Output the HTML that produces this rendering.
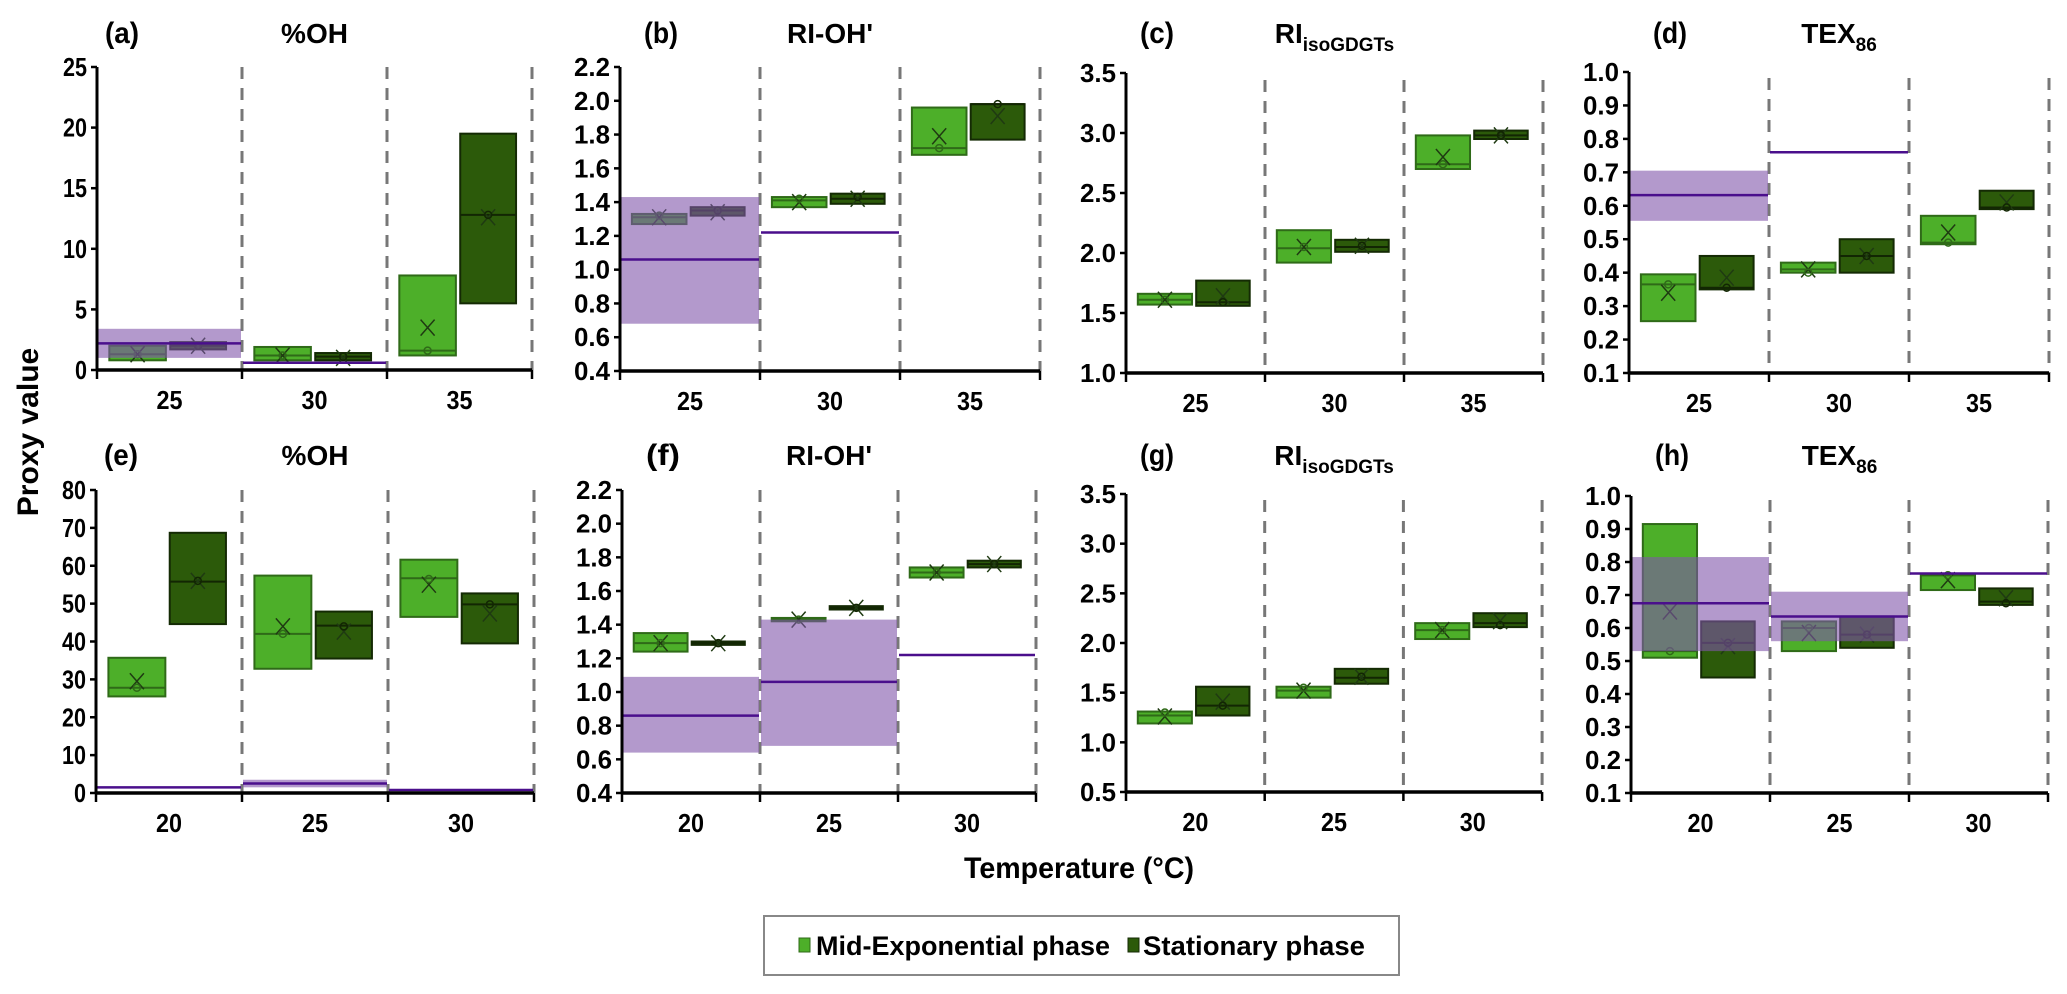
<!DOCTYPE html>
<html><head><meta charset="utf-8"><style>
body{margin:0;background:#fff;width:2067px;height:994px;overflow:hidden}
svg{display:block;font-family:"Liberation Sans",sans-serif;font-weight:bold}
</style></head><body>
<svg id="fig" width="2067" height="994" viewBox="0 0 2067 994" xmlns="http://www.w3.org/2000/svg">
<text x="0" y="0" transform="translate(38,432) rotate(-90)" text-anchor="middle" font-size="30">Proxy value</text>
<text x="1079" y="878" text-anchor="middle" font-size="30" textLength="230" lengthAdjust="spacingAndGlyphs">Temperature (°C)</text>
<g>
<rect x="764" y="916" width="635" height="59" fill="#fff" stroke="#888" stroke-width="2"/>
<rect x="799" y="938" width="11" height="14" fill="#4daf29" stroke="#2f6a18"/>
<text x="816" y="955" font-size="27" textLength="294" lengthAdjust="spacingAndGlyphs">Mid-Exponential phase</text>
<rect x="1128" y="938" width="11" height="14" fill="#2c5a0a" stroke="#142a04"/>
<text x="1143" y="955" font-size="27" textLength="222" lengthAdjust="spacingAndGlyphs">Stationary phase</text>
</g>
</svg>
<script>
const panelLetters=['(a)','(b)','(c)','(d)','(e)','(f)','(g)','(h)'];
const panelTitles=['%OH','RI-OH\'','RI|isoGDGTs','TEX|86','%OH','RI-OH\'','RI|isoGDGTs','TEX|86'];
const topCats=['25','30','35'];
const botCats=['20','25','30'];
const yMins=[0,0.4,1.0,0.1,0,0.4,0.5,0.1];
const yMaxs=[25,2.2,3.5,1.0,80,2.2,3.5,1.0];
const ySteps=[5,0.2,0.5,0.1,10,0.2,0.5,0.1];
const yDecimals=[0,1,1,1,0,1,1,1];
// [q1, median, q3, mean, point]
const midA=[[0.8,1.3,2.0,1.3,1.3],[0.8,1.2,1.9,1.2,1.2],[1.2,1.6,7.8,3.5,1.6]];
const statA=[[1.7,2.0,2.3,2.0,2.0],[0.8,1.1,1.4,1.0,1.1],[5.5,12.8,19.5,12.6,12.8]];
const midB=[[1.27,1.31,1.33,1.31,1.32],[1.37,1.41,1.43,1.40,1.42],[1.68,1.72,1.96,1.79,1.72]];
const statB=[[1.32,1.35,1.37,1.34,1.35],[1.39,1.42,1.45,1.42,1.43],[1.77,1.98,1.98,1.91,1.98]];
const midC=[[1.57,1.61,1.66,1.61,1.61],[1.92,2.04,2.19,2.05,2.05],[2.70,2.74,2.98,2.80,2.74]];
const statC=[[1.56,1.59,1.77,1.64,1.59],[2.01,2.05,2.11,2.06,2.06],[2.95,2.98,3.02,2.98,2.98]];
const midD=[[0.255,0.365,0.395,0.34,0.365],[0.40,0.41,0.43,0.41,0.40],[0.485,0.49,0.57,0.52,0.49]];
const statD=[[0.35,0.355,0.45,0.385,0.355],[0.40,0.45,0.50,0.45,0.45],[0.59,0.595,0.645,0.61,0.595]];
const midE=[[25.5,27.8,35.7,29.5,27.8],[32.8,42.0,57.4,44.0,42.0],[46.5,56.7,61.6,55.0,56.5]];
const statE=[[44.6,55.8,68.7,56.0,56.0],[35.5,44.2,47.9,42.6,44.0],[39.5,49.8,52.7,47.4,49.8]];
const midF=[[1.24,1.29,1.35,1.29,1.29],[1.42,1.43,1.44,1.43,1.43],[1.68,1.71,1.74,1.71,1.71]];
const statF=[[1.28,1.29,1.30,1.29,1.29],[1.49,1.50,1.51,1.50,1.50],[1.74,1.76,1.78,1.76,1.76]];
const midG=[[1.19,1.27,1.31,1.26,1.30],[1.45,1.52,1.56,1.52,1.55],[2.04,2.13,2.20,2.13,2.13]];
const statG=[[1.27,1.37,1.56,1.41,1.37],[1.59,1.65,1.74,1.66,1.66],[2.16,2.20,2.30,2.22,2.18]];
const midH=[[0.51,0.53,0.915,0.65,0.53],[0.53,0.60,0.62,0.585,0.60],[0.715,0.76,0.76,0.745,0.76]];
const statH=[[0.45,0.555,0.62,0.545,0.555],[0.54,0.58,0.635,0.58,0.58],[0.67,0.68,0.72,0.69,0.675]];
const refLineA=[2.2,0.6,null]; const refLowA=[1.0,null,null]; const refHighA=[3.4,null,null];
const refLineB=[1.06,1.22,null]; const refLowB=[0.68,null,null]; const refHighB=[1.43,null,null];
const refLineD=[0.632,0.76,null]; const refLowD=[0.555,null,null]; const refHighD=[0.705,null,null];
const refLineE=[1.5,2.5,0.8]; const refLowE=[null,1.5,null]; const refHighE=[null,3.5,null];
const refLineF=[0.86,1.06,1.22]; const refLowF=[0.64,0.68,null]; const refHighF=[1.09,1.43,null];
const refLineH=[0.675,0.635,0.765]; const refLowH=[0.53,0.56,null]; const refHighH=[0.815,0.71,null];
const mids=[midA,midB,midC,midD,midE,midF,midG,midH];
const stats=[statA,statB,statC,statD,statE,statF,statG,statH];
const refLines=[refLineA,refLineB,null,refLineD,refLineE,refLineF,null,refLineH];
const refLows=[refLowA,refLowB,null,refLowD,refLowE,refLowF,null,refLowH];
const refHighs=[refHighA,refHighB,null,refHighD,refHighE,refHighF,null,refHighH];

const geom=[
 {x0:97,w:145,yt:67,yb:370,dt:67},{x0:620,w:140,yt:67,yb:371,dt:67},
 {x0:1126,w:139,yt:73,yb:373,dt:80},{x0:1629,w:140,yt:72,yb:373,dt:78},
 {x0:96,w:146,yt:490,yb:793,dt:490},{x0:622,w:138,yt:490,yb:793,dt:490},
 {x0:1126,w:138.7,yt:494,yb:792,dt:500},{x0:1631,w:139,yt:496,yb:793,dt:500}];
const NS='http://www.w3.org/2000/svg';
const svg=document.getElementById('fig');
function mk(tag,attrs,parent){const e=document.createElementNS(NS,tag);for(const k in attrs)e.setAttribute(k,attrs[k]);(parent||svg).appendChild(e);return e;}

for(let p=0;p<8;p++){
 const g=geom[p];
 const grp=mk('g',{});
 
 
 const yS=v=>g.yb-(v-yMins[p])/(yMaxs[p]-yMins[p])*(g.yb-g.yt);
 const xS=(c,f)=>g.x0+g.w*(c+f);
 const cats=p<4?topCats:botCats;
 const labY=p<4?33:455;
 const lt=mk('text',{x:g.x0+(p==0||p==4?8:(p==2||p==6?14:24)),y:labY+10,'font-size':30,textLength:34,lengthAdjust:'spacingAndGlyphs'},grp);
 lt.textContent=panelLetters[p];
 
 
 const tt=mk('text',{x:g.x0+g.w*1.5,y:labY+10,'text-anchor':'middle','font-size':28},grp);
 
 
 const parts=panelTitles[p].split('|');
 const s1=mk('tspan',{},tt);s1.textContent=parts[0];
 if(parts[1]){const s2=mk('tspan',{'font-size':19,dy:8},tt);s2.textContent=parts[1];}
 for(let c=1;c<=3;c++){
  const d=mk('line',{x1:xS(c,0),x2:xS(c,0),y1:g.dt,y2:g.yb,stroke:'#777','stroke-width':3,'stroke-dasharray':'12,9'},grp);
  
  
 }
 for(let c=0;c<3;c++){
  [[mids[p][c],0.085,0.475,'#4daf29','#2f6a18','#2f6a18'],[stats[p][c],0.505,0.89,'#2c5a0a','#142a04','#122603']].forEach((s,si)=>{
   const v=s[0],xa=xS(c,s[1]),xb=xS(c,s[2]),xm=(xa+xb)/2;
   const r=mk('rect',{x:xa,y:yS(v[2]),width:xb-xa,height:Math.max(2,yS(v[0])-yS(v[2])),fill:s[3],stroke:s[4],'stroke-width':2},grp);
   
   
   const ml=mk('line',{x1:xa,x2:xb,y1:yS(v[1]),y2:yS(v[1]),stroke:s[5],'stroke-width':2},grp);
   
   
   const ym=yS(v[3]);
   const mx=mk('path',{d:`M${xm-7},${ym-8}L${xm+7},${ym+8}M${xm+7},${ym-8}L${xm-7},${ym+8}`,stroke:'#1f3a12','stroke-width':1.5,fill:'none'},grp);
   
   
   const pc=mk('circle',{cx:xm,cy:yS(v[4]),r:3.5,fill:'none',stroke:s[5],'stroke-width':1.5},grp);
   
   
  });
 }
 if(refLines[p]){
  for(let c=0;c<3;c++){
   const xa=xS(c,0)+1,xb=xS(c+1,0)-1;
   if(refLows[p][c]!==null){
    const b=mk('rect',{x:xa,y:yS(refHighs[p][c]),width:xb-xa,height:yS(refLows[p][c])-yS(refHighs[p][c]),fill:'rgba(128,85,170,0.6)'},grp);
    
    
   }
   if(refLines[p][c]!==null){
    const l=mk('line',{x1:xa,x2:xb,y1:yS(refLines[p][c]),y2:yS(refLines[p][c]),stroke:'#4a0f8c','stroke-width':2.5},grp);
    
    
   }
  }
 }
 const ya=mk('line',{x1:g.x0,x2:g.x0,y1:g.yt,y2:g.yb,stroke:'#000','stroke-width':3},grp);
 
 
 const xa=mk('line',{x1:g.x0,x2:g.x0+3*g.w,y1:g.yb,y2:g.yb,stroke:'#000','stroke-width':3.5},grp);
 
 
 const n=Math.round((yMaxs[p]-yMins[p])/ySteps[p]);
 for(let i=0;i<=n;i++){
  const v=yMins[p]+i*ySteps[p],y=yS(v);
  mk('line',{x1:g.x0-6,x2:g.x0,y1:y,y2:y,stroke:'#000','stroke-width':2.5},grp);
  const lbl=v.toFixed(yDecimals[p]);
  const t=mk('text',{x:g.x0-10,y:y+9,'text-anchor':'end','font-size':26,textLength:lbl.length*12,lengthAdjust:'spacingAndGlyphs'},grp);
  t.textContent=lbl;
  
  
 }
 for(let c=0;c<=3;c++){
  mk('line',{x1:xS(c,0),x2:xS(c,0),y1:g.yb,y2:g.yb+9,stroke:'#000','stroke-width':2.5},grp);
 }
 for(let c=0;c<3;c++){
  const t=mk('text',{x:xS(c,0.5),y:g.yb+39,'text-anchor':'middle','font-size':26,textLength:26,lengthAdjust:'spacingAndGlyphs'},grp);
  t.textContent=cats[c];
  
  
 }
}
</script>
</body></html>
